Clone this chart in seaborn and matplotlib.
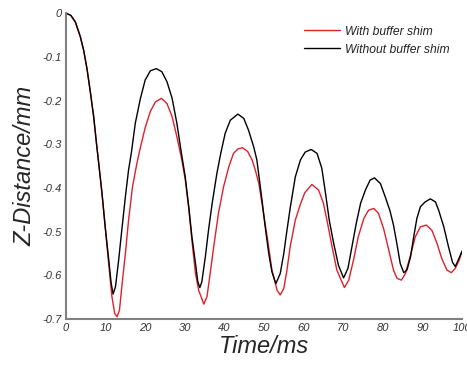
import matplotlib
matplotlib.use("Agg")
import matplotlib.pyplot as plt
import seaborn as sns
import pandas as pd

# ---- data ----
t_without = [0, 1.2, 2.36, 3.62, 4.46, 5.3, 6.14, 6.99, 7.7, 8.4, 9.1, 9.9, 10.8, 11.4, 11.9,
             12.5, 13.3, 14.1, 15, 15.8, 16.5, 17.5, 18.8, 20, 21.3, 22.8, 24.2, 25.5, 26.8,
             28, 29.1, 30.1, 31, 31.8, 32.7, 33.3, 33.8, 34.3, 35.2, 36, 36.9, 38.1, 39.1,
             40.2, 41.5, 43.4, 44.9, 46.1, 47.4, 48.2, 49.5, 50.3, 51.2, 52, 53, 54.1, 55,
             55.8, 56.6, 57.9, 59.2, 60.4, 61.9, 63.4, 64.6, 65.5, 66.5, 67.6, 68.8, 70.1,
             71.2, 72.2, 73.3, 74.4, 75.6, 76.8, 77.9, 79.4, 80.6, 81.8, 82.7, 83.6, 84.4,
             85.3, 86.1, 87, 87.8, 88.6, 89.5, 90.7, 92, 93.3, 94.1, 95.4, 96.6, 97.6, 98.3,
             99.2, 100]
z_without = [0, -0.005, -0.02, -0.054, -0.085, -0.127, -0.18, -0.237, -0.298, -0.355, -0.413,
             -0.489, -0.565, -0.618, -0.643, -0.626, -0.565, -0.496, -0.42, -0.359, -0.32,
             -0.252, -0.195, -0.153, -0.132, -0.127, -0.134, -0.157, -0.195, -0.252, -0.318,
             -0.374, -0.443, -0.512, -0.573, -0.615, -0.628, -0.615, -0.557, -0.496, -0.436,
             -0.367, -0.32, -0.275, -0.245, -0.231, -0.241, -0.268, -0.306, -0.336, -0.428,
             -0.489, -0.55, -0.592, -0.619, -0.596, -0.55, -0.497, -0.447, -0.375, -0.336,
             -0.318, -0.312, -0.321, -0.355, -0.41, -0.475, -0.527, -0.577, -0.606, -0.584,
             -0.535, -0.481, -0.435, -0.405, -0.382, -0.377, -0.39, -0.42, -0.452, -0.485,
             -0.53, -0.573, -0.594, -0.588, -0.558, -0.512, -0.47, -0.443, -0.432, -0.425,
             -0.432, -0.451, -0.489, -0.535, -0.57, -0.58, -0.562, -0.545]

t_with = [0, 1.2, 2.36, 3.62, 4.46, 5.3, 6.14, 6.99, 7.7, 8.4, 9.1, 9.9, 10.8, 11.6, 12.3, 12.9,
          13.5, 14.1, 15, 15.8, 16.8, 17.9, 18.8, 20, 21.3, 22.6, 24.1, 25.5, 26.8, 28, 29.1,
          30.1, 31, 31.8, 32.7, 33.5, 34.8, 35.6, 36.4, 37.3, 38.5, 39.8, 41.1, 42.3, 43.4,
          44.6, 45.9, 47, 47.8, 48.7, 49.5, 50.8, 52, 53.3, 54.1, 55, 55.8, 56.6, 57.9, 59.2,
          60.3, 62.1, 63.8, 65, 65.9, 67.2, 68.4, 70.3, 71.4, 72.6, 73.8, 75.2, 76.4, 77.7,
          78.9, 80.2, 81.5, 82.7, 83.6, 84.7, 85.7, 87, 88.2, 89.5, 91, 92.4, 93.7, 94.9,
          96.2, 97.3, 98.3, 99.3, 100]
z_with = [0, -0.005, -0.02, -0.054, -0.085, -0.127, -0.18, -0.237, -0.298, -0.355, -0.413,
          -0.489, -0.575, -0.649, -0.687, -0.695, -0.68, -0.626, -0.55, -0.474, -0.397, -0.344,
          -0.307, -0.262, -0.225, -0.203, -0.195, -0.207, -0.237, -0.283, -0.329, -0.38, -0.447,
          -0.52, -0.596, -0.634, -0.666, -0.649, -0.596, -0.535, -0.458, -0.397, -0.352,
          -0.321, -0.311, -0.308, -0.317, -0.336, -0.359, -0.39, -0.436, -0.512, -0.588,
          -0.634, -0.645, -0.63, -0.588, -0.535, -0.474, -0.437, -0.411, -0.392, -0.405,
          -0.435, -0.474, -0.535, -0.588, -0.628, -0.611, -0.565, -0.512, -0.47, -0.451,
          -0.447, -0.458, -0.493, -0.542, -0.588, -0.607, -0.611, -0.596, -0.554, -0.512,
          -0.489, -0.485, -0.497, -0.527, -0.562, -0.588, -0.594, -0.584, -0.565, -0.545]

series_names = ["With buffer shim", "Without buffer shim"]
x_ticks = [0, 10, 20, 30, 40, 50, 60, 70, 80, 90, 100]
y_ticks = [0, -0.1, -0.2, -0.3, -0.4, -0.5, -0.6, -0.7]
y_tick_labels = ["0", "-0.1", "-0.2", "-0.3", "-0.4", "-0.5", "-0.6", "-0.7"]

df = pd.concat([
    pd.DataFrame({"t": t_with, "z": z_with, "series": series_names[0]}),
    pd.DataFrame({"t": t_without, "z": z_without, "series": series_names[1]}),
], ignore_index=True)

sns.set_style("white")
plt.rcParams["font.family"] = ["Liberation Sans", "DejaVu Sans"]

fig = plt.figure(figsize=(4.67, 3.65), dpi=100)
ax = fig.add_axes([0.1413, 0.126, 0.848, 0.838])

sns.lineplot(data=df, x="t", y="z", hue="series", sort=False,
             palette={series_names[0]: "#e0202a", series_names[1]: "#000000"},
             linewidth=1.0, ax=ax, estimator=None)

ax.set_xlim(0, 100)
ax.set_ylim(-0.7, 0)
ax.set_xticks(x_ticks)
ax.set_xticklabels([str(v) for v in x_ticks])
ax.set_yticks(y_ticks)
ax.set_yticklabels(y_tick_labels)

for s in ["top", "right"]:
    ax.spines[s].set_visible(False)
for s in ["left", "bottom"]:
    ax.spines[s].set_color("#808080")
    ax.spines[s].set_linewidth(1.5)

ax.tick_params(axis="both", direction="in", length=4, width=1, color="#808080",
               labelsize=8, labelcolor="#333333", pad=3)
for lab in ax.get_xticklabels() + ax.get_yticklabels():
    lab.set_fontstyle("italic")

ax.set_xlabel("Time/ms", fontsize=17, fontstyle="italic", labelpad=1)
ax.set_ylabel("Z-Distance/mm", fontsize=17, fontstyle="italic", labelpad=4)

leg = ax.legend(loc="upper right", bbox_to_anchor=(0.995, 0.995), frameon=False,
                handlelength=3.0, handletextpad=0.35, labelspacing=0.5,
                prop={"style": "italic", "size": 8.7})
for txt in leg.get_texts():
    txt.set_color("#222222")

fig.savefig("out.png", dpi=100)
